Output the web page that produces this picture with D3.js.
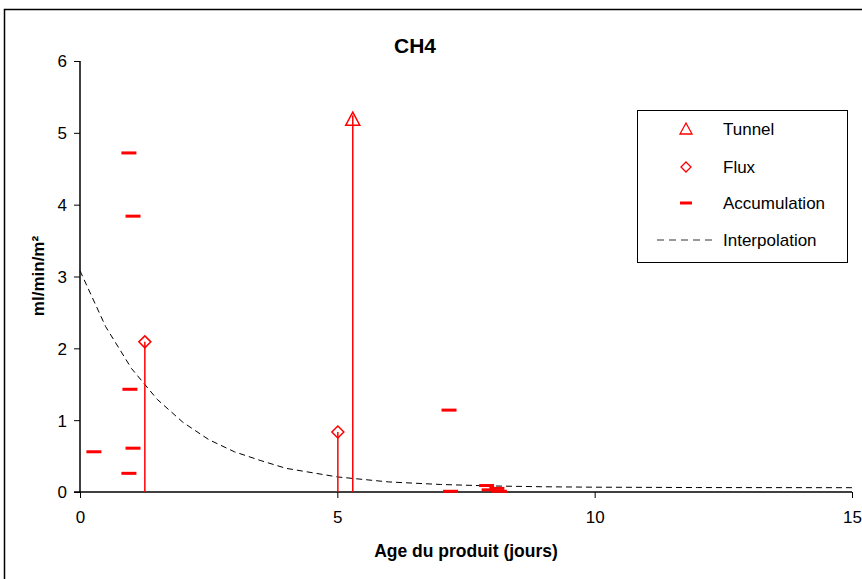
<!DOCTYPE html>
<html><head><meta charset="utf-8">
<script src="https://cdn.jsdelivr.net/npm/d3@7"></script>
<style>body{margin:0;background:#fff}svg{display:block}text{font-family:"Liberation Sans",Arial,sans-serif}</style>
</head><body>
<script>
const tunnelX=[5.30], tunnelY=[5.19];
const fluxX=[1.26,5.01], fluxY=[2.09,0.835];
const accX=[0.95,1.03,0.97,1.03,0.95,0.27,7.17,7.20,7.90,8.10,7.95,8.15];
const accY=[4.72,3.84,1.43,0.61,0.26,0.56,1.14,0.01,0.09,0.05,0.03,0.01];
const interpX=[0,0.5,1,1.5,2,2.5,3,3.5,4,5,6,7,8,9,10,12,15];
const interpY=[3.08,2.30,1.72,1.29,0.97,0.73,0.56,0.44,0.33,0.21,0.14,0.105,0.084,0.073,0.067,0.062,0.06];
const xTicks=[0,5,10,15], yTicks=[0,1,2,3,4,5,6];
const legendLabels=["Tunnel","Flux","Accumulation","Interpolation"];

const W=862,H=579;
const svg=d3.select("body").append("svg").attr("width",W).attr("height",H);
svg.append("rect").attr("x",4.5).attr("y",9.5).attr("width",W+10).attr("height",H+10).attr("fill","none").attr("stroke","#000").attr("stroke-width",1.5);
const x=d3.scaleLinear().domain([0,15]).range([80,852]);
const y=d3.scaleLinear().domain([0,6]).range([492,61]);
const red="#ff0000";

// axes
const ya=svg.append("g").attr("transform","translate(80,0)").call(d3.axisLeft(y).tickValues(yTicks).tickSize(6).tickFormat(d3.format("d")));
const xa=svg.append("g").attr("transform","translate(0,492)").call(d3.axisBottom(x).tickValues(xTicks).tickSize(6).tickFormat(d3.format("d")));
[ya,xa].forEach(g=>{g.select(".domain").attr("stroke","#000").attr("stroke-width",1.5);
 g.selectAll(".tick line").attr("stroke","#000");
 g.selectAll("text").attr("font-size",17).attr("fill","#000").attr("font-family","Liberation Sans, Arial, sans-serif");});
ya.select(".domain").attr("d","M-0,61V492");
xa.select(".domain").attr("d","M74,0H852");
ya.selectAll(".tick text").attr("x",-13).attr("dy","0.35em");
xa.selectAll(".tick text").attr("y",19);

// interpolation
svg.append("path").datum(interpX.map((d,i)=>[d,interpY[i]]))
 .attr("d",d3.line().x(d=>x(d[0])).y(d=>y(d[1])))
 .attr("fill","none").attr("stroke","#000").attr("stroke-width",1).attr("stroke-dasharray","6,4");

// drop lines
const drops=tunnelX.map((d,i)=>[d,tunnelY[i]]).concat(fluxX.map((d,i)=>[d,fluxY[i]]));
svg.selectAll("line.drop").data(drops).enter().append("line")
 .attr("x1",d=>x(d[0])).attr("x2",d=>x(d[0])).attr("y1",d=>y(d[1])).attr("y2",y(0))
 .attr("stroke",red).attr("stroke-width",1.5);

// accumulation
svg.selectAll("rect.acc").data(accX.map((d,i)=>[d,accY[i]])).enter().append("rect")
 .attr("x",d=>x(d[0])-7.5).attr("y",d=>y(d[1])-1.5).attr("width",15).attr("height",3).attr("fill",red);

// flux diamonds
const diamond=(cx,cy,r)=>`M${cx},${cy-r}L${cx+r},${cy}L${cx},${cy+r}L${cx-r},${cy}Z`;
svg.selectAll("path.flux").data(fluxX.map((d,i)=>[d,fluxY[i]])).enter().append("path")
 .attr("d",d=>diamond(x(d[0]),y(d[1]),6)).attr("fill","#fff").attr("stroke",red).attr("stroke-width",1.5);
svg.selectAll("line.fl2").data(fluxX.map((d,i)=>[d,fluxY[i]])).enter().append("line")
 .attr("x1",d=>x(d[0])).attr("x2",d=>x(d[0])).attr("y1",d=>y(d[1])).attr("y2",d=>y(d[1])+6).attr("stroke",red).attr("stroke-width",1.5);
// tunnel triangle
const tri=(cx,cy)=>`M${cx},${cy-7}L${cx+7},${cy+6}L${cx-7},${cy+6}Z`;
svg.selectAll("path.tun").data(tunnelX.map((d,i)=>[d,tunnelY[i]])).enter().append("path")
 .attr("d",d=>tri(x(d[0]),y(d[1]))).attr("fill","#fff").attr("stroke",red).attr("stroke-width",1.5);
svg.selectAll("line.tl2").data(tunnelX.map((d,i)=>[d,tunnelY[i]])).enter().append("line")
 .attr("x1",d=>x(d[0])).attr("x2",d=>x(d[0])).attr("y1",d=>y(d[1])-4).attr("y2",d=>y(d[1])+6).attr("stroke",red).attr("stroke-width",1.5);

// titles
svg.append("text").attr("x",415).attr("y",53).attr("text-anchor","middle").attr("font-size",21).attr("font-weight","bold").text("CH4");
svg.append("text").attr("x",466).attr("y",557).attr("text-anchor","middle").attr("font-size",17.5).attr("font-weight","bold").text("Age du produit (jours)");
svg.append("text").attr("transform","translate(44,276) rotate(-90)").attr("text-anchor","middle").attr("font-size",17).attr("font-weight","bold").text("ml/min/m²");

// legend
const lg=svg.append("g");
lg.append("rect").attr("x",637.5).attr("y",110.5).attr("width",210).attr("height",152).attr("fill","#fff").attr("stroke","#000").attr("stroke-width",1);
const ly=[129,167,203,240];
lg.append("path").attr("d",`M686,${ly[0]-6}L692,${ly[0]+5}L680,${ly[0]+5}Z`).attr("fill","#fff").attr("stroke",red).attr("stroke-width",1.3);
lg.append("path").attr("d",diamond(686,ly[1],5)).attr("fill","#fff").attr("stroke",red).attr("stroke-width",1.3);
lg.append("rect").attr("x",680).attr("y",ly[2]-1.5).attr("width",12).attr("height",3).attr("fill",red);
lg.append("line").attr("x1",657).attr("x2",712).attr("y1",ly[3]).attr("y2",ly[3]).attr("stroke","#777").attr("stroke-width",1.3).attr("stroke-dasharray","7,5");
lg.selectAll("text.l").data(legendLabels).enter().append("text")
 .attr("x",723).attr("y",(d,i)=>ly[i]+6).attr("font-size",17).text(d=>d);
</script>
</body></html>
